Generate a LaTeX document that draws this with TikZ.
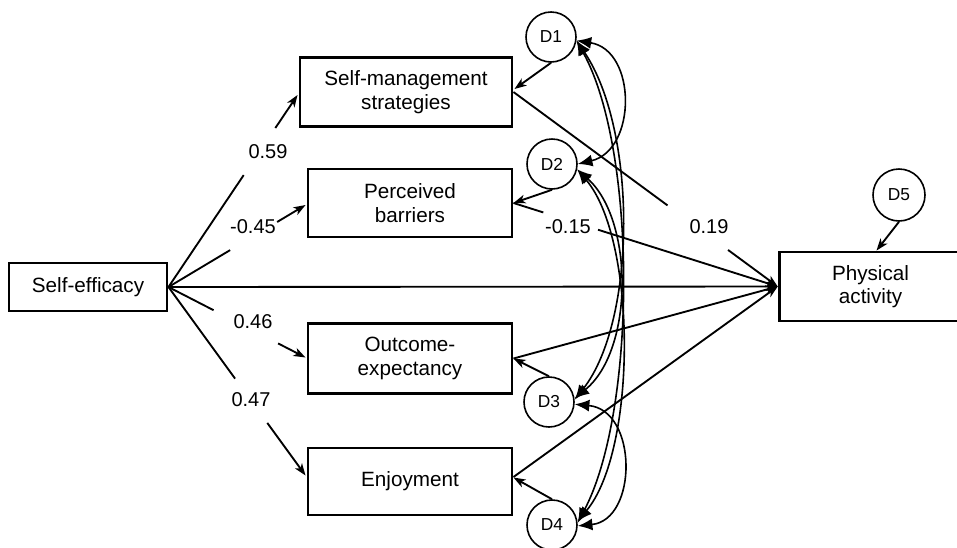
\documentclass[tikz,border=0pt]{standalone}
\usepackage{fontspec}
\setmainfont{Liberation Sans}[Ligatures=NoCommon]
\usetikzlibrary{arrows.meta,calc}
\begin{document}
\begin{tikzpicture}[x=0.75pt,y=-0.75pt,
  box/.style={draw,line width=2.2pt,inner sep=0pt,align=center,font=\fontsize{15.5}{17.5}\selectfont},
  dist/.style={draw,circle,line width=1.2pt,inner sep=0pt,minimum size=37.5pt,font=\fontsize{13}{15}\selectfont},
  lab/.style={font=\fontsize{15}{17}\selectfont,inner sep=0pt},
  reg/.style={line width=1.4pt},
  rega/.style={reg,-{Stealth[length=9pt,width=6.5pt,inset=2.5pt]}},
  cov/.style={line width=1.2pt,{Latex[length=11pt,width=9pt]}-{Latex[length=11pt,width=9pt]}}
]
\useasboundingbox (0,0) rectangle (957,547);
\clip (0,0) rectangle (957,547);

% boxes
\node[box,minimum width=118.5pt,minimum height=36pt] (SE) at (88,287) {Self-efficacy};
\node[box,minimum width=159pt,minimum height=51.75pt] (SM) at (406,92) {Self-management\\strategies};
\node[box,minimum width=153pt,minimum height=51pt] (PB) at (410,203) {Perceived\\barriers};
\node[box,minimum width=153pt,minimum height=52.5pt] (OE) at (410,358.5) {Outcome-\\expectancy};
\node[box,minimum width=153pt,minimum height=50.25pt] (EN) at (410,481.5) {Enjoyment};
\node[box,minimum width=137pt,minimum height=51.75pt] (PA) at (870.5,286.5) {Physical\\activity};

% disturbances
\node[dist] (D1) at (551,37) {D1};
\node[dist] (D2) at (552,164) {D2};
\node[dist] (D3) at (549,402) {D3};
\node[dist] (D4) at (552,525) {D4};
\node[dist,minimum size=39pt] (D5) at (899,195) {D5};

% targets
\coordinate (smin) at ($(SM.west)+(-1,3)$);
\coordinate (pbin) at ($(PB.west)+(-1,2)$);
\coordinate (oein) at ($(OE.west)+(-1,-1)$);
\coordinate (enin) at ($(EN.west)+(-1,-6)$);
\coordinate (enout) at ($(EN.east)+(0,-4.5)$);

% Self-efficacy paths
\draw[reg] (SE.east) -- ($(SE.east)!0.583!(smin)$);
\draw[rega] ($(SE.east)!0.828!(smin)$) -- (smin);
\node[lab] (l59) at (268,152) {0.59};

\draw[reg] (SE.east) -- ($(SE.east)!0.45!(pbin)$);
\draw[rega] ($(SE.east)!0.793!(pbin)$) -- (pbin);
\node[lab] (l45) at (253,227) {-0.45};

\draw[reg] (SE.east) -- ($(SE.east)!0.329!(oein)$);
\draw[rega] ($(SE.east)!0.8!(oein)$) -- (oein);
\node[lab] (l46) at (253,322) {0.46};

\draw[reg] (SE.east) -- ($(SE.east)!0.486!(enin)$);
\draw[rega] ($(SE.east)!0.721!(enin)$) -- (enin);
\node[lab] (l47) at (251,400) {0.47};

\draw[rega] (SE.east) -- (PA.west);

% mediators to PA
\draw[reg] (SM.east) -- ($(SM.east)!0.583!(PA.west)$);
\draw[rega] ($(SM.east)!0.812!(PA.west)$) -- (PA.west);
\node[lab] (l19) at (709,227) {0.19};

\draw[reg] (PB.east) -- ($(PB.east)!0.113!(PA.west)$);
\draw[rega] ($(PB.east)!0.32!(PA.west)$) -- (PA.west);
\node[lab] (l15) at (568,227) {-0.15};

\draw[rega] (OE.east) -- (PA.west);
\draw[rega] (enout) -- (PA.west);

% disturbance arrows
\draw[rega] (D1.south) -- ($(SM.east)+(1,-3)$);
\draw[rega] (D2.south) -- (PB.east);
\draw[rega] (D3.north) -- (OE.east);
\draw[rega] (D4.north) -- ($(EN.east)+(0,-4)$);
\draw[rega] (D5.south) -- ($(PA.north)+(6,0)$);

% covariances
\draw[cov] (D1.-8) .. controls (637,50) and (637,150) .. (D2.0);
\draw[cov] (D1.-8) .. controls (637,130) and (637,320) .. (D3.5);
\draw[cov] (D1.-8) .. controls (637,150) and (637,410) .. (D4.5);
\draw[cov] (D2.-12) .. controls (634,220) and (634,350) .. (D3.8);
\draw[cov] (D2.-12) .. controls (637,240) and (637,450) .. (D4.8);
\draw[cov] (D3.-5) .. controls (638,410) and (638,520) .. (D4.-2);
\end{tikzpicture}
\end{document}
